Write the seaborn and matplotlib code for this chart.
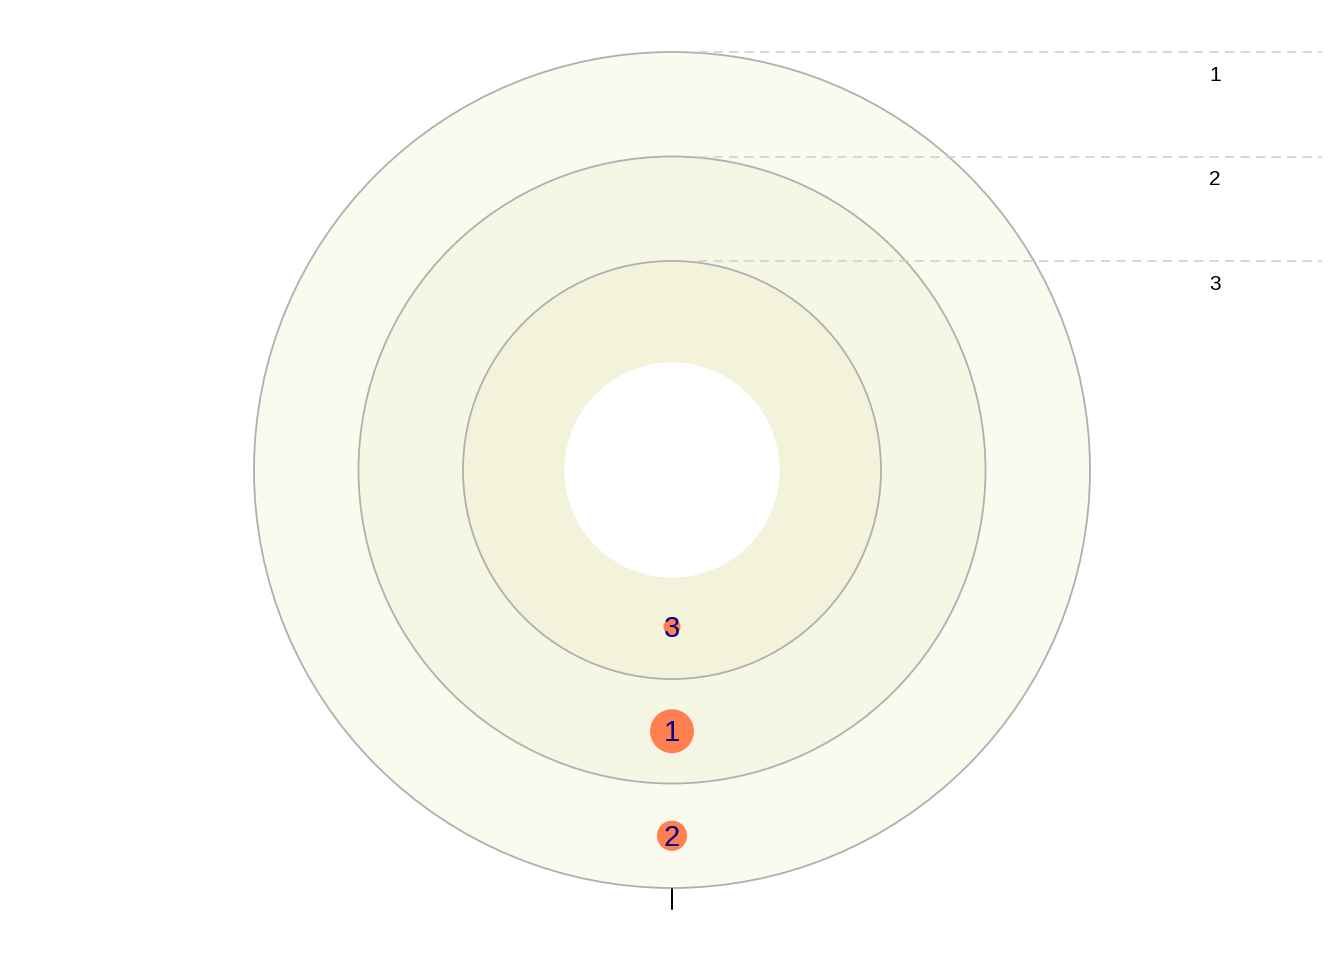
import numpy as np
import pandas as pd
import matplotlib
matplotlib.use("Agg")
import matplotlib.pyplot as plt
from matplotlib.patches import Circle
import seaborn as sns

# ---- data ----
band_labels = ["1", "2", "3"]            # outer -> inner
ring_radii = [4.0, 3.0, 2.0]             # ring (band outer edge) radii
hole_radius = 1.03
band_colors = ["#FAFAEE", "#F6F6E5", "#F3F3DC"]

point_ids = ["1", "2", "3"]
point_radius = [2.5, 3.5, 1.5]
point_angle_deg = [180, 180, 180]
point_size = [3, 2, 1]

sns.set_style("white")
plt.rcParams['font.family'] = ['Liberation Sans', 'DejaVu Sans']

fig = plt.figure(figsize=(13.44, 9.6), dpi=100)
ax = fig.add_axes([0, 0, 1, 1])
u = 104.5
ax.set_xlim(-672 / u, 672 / u)
ax.set_ylim(-490 / u, 470 / u)
ax.set_aspect("equal")
ax.axis("off")

# bands
for r, c in zip(ring_radii, band_colors):
    ax.add_patch(Circle((0, 0), r, facecolor=c, edgecolor="#B0B0B0", lw=1.3, zorder=1))
ax.add_patch(Circle((0, 0), hole_radius, facecolor="white", edgecolor="none", zorder=1.5))

# dashed reference lines + band labels
for r, lab in zip(ring_radii, band_labels):
    ax.plot([0.25, 650 / u], [r, r], color="#D0D0D0", lw=1.2, ls=(0, (5.5, 3.8)), zorder=2)
    ax.text(543 / u, r - 0.205, lab, fontsize=15, color="black", ha="center",
            va="center_baseline", zorder=3)

# points
theta = np.deg2rad(np.array(point_angle_deg))
df = pd.DataFrame({
    "id": point_ids,
    "x": np.array(point_radius) * np.sin(theta),
    "y": np.array(point_radius) * np.cos(theta),
    "size": point_size,
})
sns.scatterplot(data=df, x="x", y="y", size="size", sizes={3: 1000, 2: 470, 1: 150},
                color="#FF7F50", linewidth=0, legend=False, ax=ax, zorder=4)
for _, row in df.iterrows():
    ax.text(row["x"], row["y"] + 0.01, row["id"], fontsize=21, color="#00008B",
            ha="center", va="center_baseline", zorder=5)

# bottom tick
ax.plot([0, 0], [-4.01, -4.2], color="black", lw=1.4, zorder=3)

fig.savefig("out.png", dpi=100)
